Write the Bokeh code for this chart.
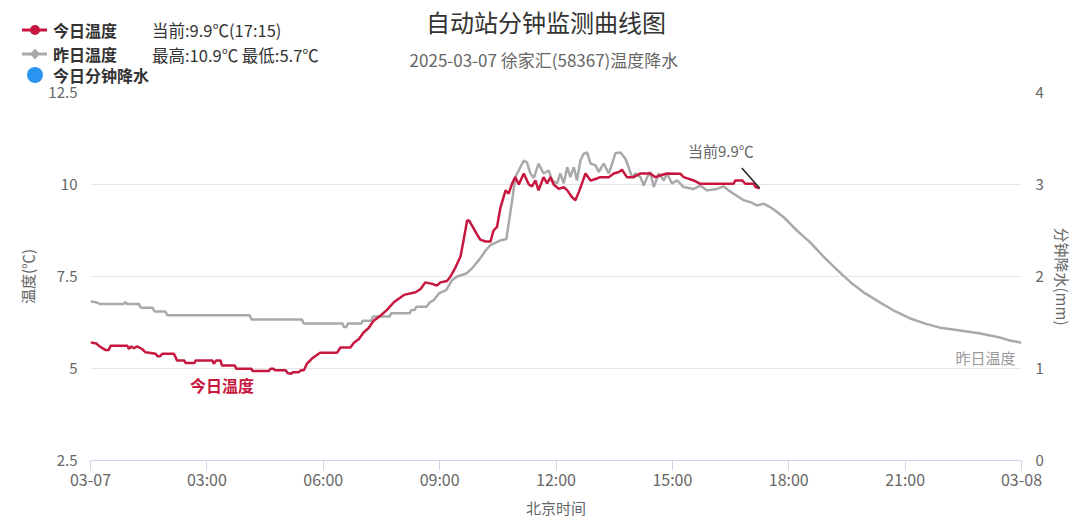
from bokeh.plotting import figure
from bokeh.layouts import column
from bokeh.models import Range1d, LinearAxis, FixedTicker, Label, Div
from bokeh.embed import file_html
from bokeh.resources import INLINE

FONT = "Noto Sans CJK SC"

# ---------------- data ----------------
x_ticks = [0, 3, 6, 9, 12, 15, 18, 21, 24]
x_tick_labels = ["03-07", "03:00", "06:00", "09:00", "12:00", "15:00", "18:00", "21:00", "03-08"]
y_ticks = [2.5, 5, 7.5, 10, 12.5]
y_tick_labels = ["2.5", "5", "7.5", "10", "12.5"]
rain_ticks = [0, 1, 2, 3, 4]

# yesterday temperature (hours, degC)
yest_h = [0.00, 0.15, 0.25, 0.85, 0.90, 0.95, 1.25, 1.30, 1.60, 1.65, 1.93, 1.98, 4.10, 4.15, 5.45, 5.50,
          6.50, 6.53, 6.60, 6.63, 6.98, 7.02, 7.24, 7.28, 7.71, 7.75, 8.23, 8.27, 8.36, 8.40, 8.66, 8.75,
          8.85, 8.98, 9.17, 9.32, 9.45, 9.69, 9.86, 10.05, 10.18, 10.31, 10.57, 10.72, 10.78, 10.87,
          10.95, 11.08, 11.17, 11.25, 11.34, 11.43, 11.55, 11.68, 11.81, 11.90, 12.03, 12.11, 12.20,
          12.29, 12.37, 12.46, 12.54, 12.63, 12.71, 12.80, 12.89, 13.02, 13.10, 13.23, 13.36, 13.45,
          13.53, 13.66, 13.79, 13.87, 13.96, 14.05, 14.18, 14.26, 14.35, 14.43, 14.52, 14.65, 14.78,
          14.86, 14.99, 15.12, 15.29, 15.55, 15.72, 15.89, 16.15, 16.32, 16.45, 16.58, 16.71, 16.84,
          17.01, 17.18, 17.35, 17.53, 17.70, 17.87, 18.04, 18.21, 18.56, 18.94, 19.33, 19.64, 19.97,
          20.36, 20.75, 21.13, 21.52, 21.90, 22.42, 22.94, 23.45, 23.70, 24.00]
yest_t = [6.82, 6.80, 6.75, 6.75, 6.80, 6.75, 6.75, 6.65, 6.65, 6.55, 6.55, 6.45, 6.45, 6.33, 6.33, 6.22,
          6.22, 6.13, 6.13, 6.22, 6.22, 6.30, 6.30, 6.41, 6.41, 6.50, 6.50, 6.59, 6.59, 6.68, 6.68, 6.80,
          6.86, 7.04, 7.13, 7.40, 7.50, 7.58, 7.75, 8.00, 8.20, 8.35, 8.48, 8.52, 8.93, 9.57,
          10.20, 10.47, 10.65, 10.60, 10.30, 10.18, 10.57, 10.30, 10.38, 10.11, 10.03, 10.30, 10.03,
          10.47, 10.20, 10.47, 10.11, 10.65, 10.83, 10.87, 10.57, 10.52, 10.34, 10.57, 10.30, 10.57,
          10.85, 10.87, 10.70, 10.47, 10.20, 10.30, 10.20, 9.97, 10.20, 10.34, 9.93, 10.30, 10.11,
          10.30, 10.03, 10.11, 9.93, 9.88, 9.97, 9.84, 9.88, 9.95, 9.84, 9.75, 9.66, 9.57,
          9.52, 9.43, 9.48, 9.38, 9.25, 9.11, 8.93, 8.75, 8.42, 7.99, 7.60, 7.30, 7.04,
          6.79, 6.55, 6.36, 6.22, 6.11, 6.03, 5.95, 5.84, 5.76, 5.70]

# today temperature (hours, degC)
today_h = [0.00, 0.15, 0.21, 0.39, 0.47, 0.52, 0.95, 0.99, 1.05, 1.12, 1.20, 1.33, 1.42, 1.68, 1.73, 1.79,
           1.85, 2.15, 2.19, 2.23, 2.42, 2.45, 2.68, 2.71, 3.14, 3.18, 3.24, 3.35, 3.39, 3.72, 3.76, 4.15,
           4.18, 4.60, 4.64, 4.72, 4.76, 5.03, 5.08, 5.18, 5.22, 5.37, 5.42, 5.50, 5.58, 5.71, 5.88, 5.93,
           6.36, 6.44, 6.70, 6.79, 6.92, 7.04, 7.17, 7.30, 7.47, 7.65, 7.82, 7.99, 8.08, 8.38, 8.51, 8.63,
           8.81, 8.93, 9.02, 9.19, 9.28, 9.41, 9.54, 9.62, 9.71, 9.76, 9.88, 9.97, 10.05, 10.18, 10.31,
           10.39, 10.48, 10.57, 10.70, 10.78, 10.87, 10.95, 11.04, 11.17, 11.30, 11.38, 11.47, 11.55,
           11.68, 11.77, 11.86, 11.94, 12.07, 12.20, 12.29, 12.41, 12.50, 12.59, 12.67, 12.76, 12.89,
           13.02, 13.14, 13.36, 13.49, 13.62, 13.70, 13.83, 14.00, 14.18, 14.43, 14.56, 14.70, 14.86,
           15.21, 15.29, 15.55, 15.72, 16.58, 16.62, 16.80, 16.88, 17.10, 17.14, 17.25]
today_t = [5.71, 5.68, 5.62, 5.50, 5.50, 5.62, 5.62, 5.53, 5.60, 5.55, 5.60, 5.53, 5.44, 5.40, 5.33, 5.33,
           5.40, 5.40, 5.31, 5.22, 5.22, 5.15, 5.15, 5.22, 5.22, 5.13, 5.22, 5.22, 5.08, 5.08, 4.99, 4.99,
           4.93, 4.93, 4.99, 4.99, 4.95, 4.95, 4.88, 4.86, 4.90, 4.90, 4.95, 4.95, 5.13, 5.27, 5.40, 5.43,
           5.43, 5.57, 5.57, 5.70, 5.80, 5.98, 6.10, 6.30, 6.43, 6.60, 6.80, 6.93, 7.00, 7.07, 7.16, 7.34,
           7.30, 7.25, 7.34, 7.38, 7.50, 7.75, 8.05, 8.50, 9.02, 9.02, 8.80, 8.63, 8.50, 8.45, 8.45,
           8.75, 8.85, 9.38, 9.84, 9.75, 10.03, 10.20, 10.00, 10.30, 10.00, 9.95, 10.11, 9.84,
           10.20, 10.03, 10.20, 10.00, 9.88, 9.93, 9.84, 9.66, 9.57, 9.80, 10.03, 10.30, 10.11,
           10.15, 10.20, 10.20, 10.30, 10.34, 10.40, 10.20, 10.20, 10.30, 10.30, 10.20, 10.25, 10.30,
           10.29, 10.20, 10.11, 10.02, 10.02, 10.11, 10.11, 10.02, 10.02, 9.93, 9.90]

# today minute precipitation (mm): none recorded
rain_h = []
rain_mm = []

current_time = "17:15"
current_temp = 9.9
title_text = "自动站分钟监测曲线图"
subtitle_text = "2025-03-07 徐家汇(58367)温度降水"
series_names = ["今日温度", "昨日温度", "今日分钟降水"]

RED = "#c8173f"
GRAY = "#a9a9a9"
BLUE = "#2b93f0"
TXT = "#666666"

# ---------------- header (title, subtitle, legend) ----------------
yest_max = round(max(yest_t), 1)
yest_min = round(min(yest_t), 1)


def txt(left, cy, text, size, color, weight="normal", width=None, align="left"):
    lh = int(size * 1.1)
    w = f"width:{width}px;" if width else ""
    return (f'<div style="position:absolute;left:{left}px;top:{cy - lh / 2:.1f}px;{w}height:{lh}px;'
            f'line-height:{lh}px;font-size:{size}px;color:{color};font-weight:{weight};'
            f'text-align:{align};white-space:nowrap;font-family:\'{FONT}\';">{text}</div>')


def sym(left, top, w, h, inner):
    return (f'<svg style="position:absolute;left:{left}px;top:{top}px;overflow:visible" '
            f'width="{w}" height="{h}">{inner}</svg>')


parts = [
    txt(546 - 300, 22, title_text, 24, "#333333", width=600, align="center"),
    txt(544 - 300, 60, subtitle_text, 17, TXT, width=600, align="center"),
    sym(20, 24, 30, 12, f'<line x1="2" y1="6" x2="27" y2="6" stroke="{RED}" stroke-width="3"/>'
                        f'<circle cx="15" cy="6" r="5" fill="{RED}"/>'),
    txt(53, 30, series_names[0], 16, "#333333", weight="bold"),
    txt(152, 30, f"当前:{current_temp}℃({current_time})", 16.5, "#333333"),
    sym(20, 48, 30, 12, f'<line x1="2" y1="6" x2="27" y2="6" stroke="{GRAY}" stroke-width="3"/>'
                        f'<polygon points="15,0.5 20,6 15,11.5 10,6" fill="{GRAY}"/>'),
    txt(53, 54.5, series_names[1], 16, "#333333", weight="bold"),
    txt(152, 54.5, f"最高:{yest_max}℃ 最低:{yest_min}℃", 16.5, "#333333"),
    sym(27, 67, 16, 16, f'<circle cx="8" cy="8" r="8" fill="{BLUE}"/>'),
    txt(53, 75.5, series_names[2], 16, "#333333", weight="bold"),
]
header_html = ('<div style="position:relative;width:1080px;height:84px;overflow:hidden;background:white;">'
               + "".join(parts) + "</div>")
header = Div(text=header_html, width=1080, height=84, margin=0)

# ---------------- main chart ----------------
p = figure(frame_width=931, frame_height=368, output_backend="svg", toolbar_location=None,
           x_range=Range1d(0, 24), y_range=Range1d(2.5, 12.5),
           min_border_left=90, min_border_right=59, min_border_top=8, min_border_bottom=67)
p.outline_line_color = None
p.border_fill_color = "white"
p.xgrid.visible = False
p.ygrid.grid_line_color = "#e6e6e6"
p.ygrid.grid_line_width = 1
p.ygrid.ticker = FixedTicker(ticks=y_ticks)

p.extra_y_ranges = {"rain": Range1d(0, 4)}

xa = p.xaxis[0]
xa.ticker = FixedTicker(ticks=x_ticks)
xa.major_label_overrides = {t: l for t, l in zip(x_ticks, x_tick_labels)}
xa.axis_line_color = "#ccd6eb"
xa.major_tick_line_color = "#ccd6eb"
xa.major_tick_out = 10
xa.major_tick_in = 0
xa.minor_tick_line_color = None
xa.major_label_standoff = -4
xa.major_label_text_font = FONT
xa.major_label_text_font_size = "16px"
xa.major_label_text_color = TXT
xa.axis_label = "北京时间"
xa.axis_label_text_font = FONT
xa.axis_label_text_font_size = "15px"
xa.axis_label_text_font_style = "normal"
xa.axis_label_text_color = TXT
xa.axis_label_standoff = 3

ya = p.yaxis[0]
ya.ticker = FixedTicker(ticks=y_ticks)
ya.major_label_overrides = {t: l for t, l in zip(y_ticks, y_tick_labels)}
ya.axis_line_color = None
ya.major_tick_line_color = None
ya.minor_tick_line_color = None
ya.major_label_standoff = 7
ya.major_label_text_font = FONT
ya.major_label_text_font_size = "15px"
ya.major_label_text_color = TXT
ya.axis_label = "温度(℃)"
ya.axis_label_text_font = FONT
ya.axis_label_text_font_size = "15px"
ya.axis_label_text_font_style = "normal"
ya.axis_label_text_color = TXT
ya.axis_label_standoff = 7

ra = LinearAxis(y_range_name="rain", ticker=FixedTicker(ticks=rain_ticks))
ra.axis_line_color = None
ra.major_tick_line_color = None
ra.minor_tick_line_color = None
ra.major_label_standoff = 8
ra.major_label_text_font = FONT
ra.major_label_text_font_size = "15px"
ra.major_label_text_color = TXT
ra.axis_label = "分钟降水(mm)"
ra.axis_label_text_font = FONT
ra.axis_label_text_font_size = "15px"
ra.axis_label_text_font_style = "normal"
ra.axis_label_text_color = TXT
ra.axis_label_standoff = 5
p.add_layout(ra, "right")

p.line(yest_h, yest_t, line_color=GRAY, line_width=2.5)
p.line(today_h, today_t, line_color=RED, line_width=2.5)
p.scatter(rain_h, rain_mm, y_range_name="rain", marker="circle", size=8,
          fill_color=BLUE, line_color=BLUE)


def lab(fig, x, y, text, size="15px", color="#333333", style="normal", align="left"):
    fig.add_layout(Label(x=x, y=y, text=text, text_font=FONT, text_font_size=size,
                         text_color=color, text_font_style=style, text_align=align,
                         text_baseline="middle"))


# series labels
lab(p, 3.39, 4.54, series_names[0], size="16px", color=RED, style="bold", align="center")
lab(p, 23.07, 5.30, series_names[1], size="15px", color="#999999", align="center")

# current value callout
p.segment(x0=[today_h[-1] - 0.46], y0=[today_t[-1] + 0.55], x1=[today_h[-1]], y1=[today_t[-1]],
          line_color="#222222", line_width=1.5)
lab(p, 16.25, 10.92, f"当前{current_temp}℃", size="15px", color=TXT, align="center")

layout = column(header, p, spacing=0)
open("out.html", "w").write(file_html(layout, INLINE))
